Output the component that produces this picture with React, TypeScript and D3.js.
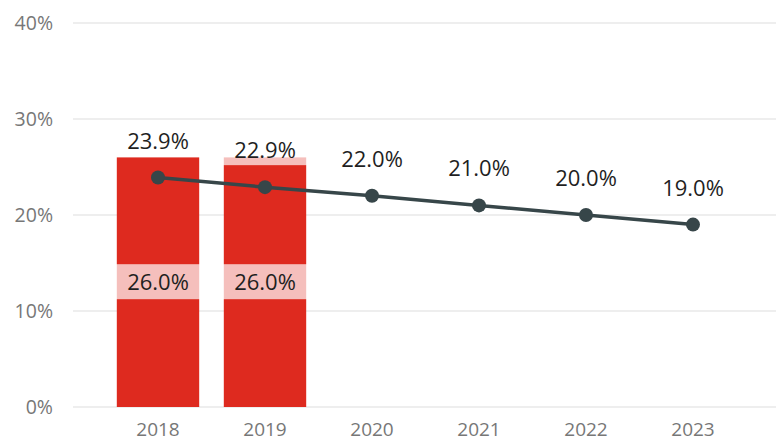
import { useEffect, useRef } from "react";
import * as d3 from "d3";

const years = ["2018", "2019", "2020", "2021", "2022", "2023"];
const barValues = [26.0, 26.0, null, null, null, null];
const lineValues = [23.9, 22.9, 22.0, 21.0, 20.0, 19.0];
const yTicks = [0, 10, 20, 30, 40];

const W = 776;
const H = 439;

const App = () => {
  const ref = useRef<SVGSVGElement | null>(null);

  useEffect(() => {
    const svg = d3.select(ref.current);
    svg.selectAll("*").remove();

    const font = "'Open Sans', 'Segoe UI', sans-serif";
    const y = d3.scaleLinear().domain([0, 40]).range([407, 23]);
    const x = d3.scalePoint<string>().domain(years).range([104.5, 746.5]).padding(0.5);
    const barW = x.step() * 0.77;

    // gridlines + y labels
    const grid = svg.append("g");
    grid
      .selectAll("line")
      .data(yTicks)
      .enter()
      .append("line")
      .attr("x1", 73)
      .attr("x2", W)
      .attr("y1", (d) => y(d))
      .attr("y2", (d) => y(d))
      .attr("stroke", "#eeeeee")
      .attr("stroke-width", 2);
    grid
      .selectAll("text")
      .data(yTicks)
      .enter()
      .append("text")
      .attr("x", 53)
      .attr("y", (d) => y(d) + 7)
      .attr("text-anchor", "end")
      .attr("font-family", font)
      .attr("font-size", 19.5)
      .attr("fill", "#777")
      .text((d) => `${d}%`);

    // x labels
    svg
      .append("g")
      .selectAll("text")
      .data(years)
      .enter()
      .append("text")
      .attr("x", (d) => x(d)!)
      .attr("y", 436)
      .attr("text-anchor", "middle")
      .attr("font-family", font)
      .attr("font-size", 19)
      .attr("fill", "#777")
      .text((d) => d);

    const barData = years
      .map((yr, i) => ({ yr, v: barValues[i] }))
      .filter((d) => d.v !== null) as { yr: string; v: number }[];

    svg
      .append("g")
      .selectAll("rect")
      .data(barData)
      .enter()
      .append("rect")
      .attr("x", (d) => x(d.yr)! - barW / 2)
      .attr("y", (d) => y(d.v))
      .attr("width", barW)
      .attr("height", (d) => y(0) - y(d.v))
      .attr("fill", "#de2a1f");

    const lineData = years.map((yr, i) => ({ yr, v: lineValues[i] }));

    // label backgrounds (semi-transparent white, shows pink over bars)
    const bgs = svg.append("g").attr("fill", "#fff").attr("fill-opacity", 0.7);
    bgs
      .selectAll("rect.bar")
      .data(barData)
      .enter()
      .append("rect")
      .attr("x", (d) => x(d.yr)! - 50)
      .attr("y", (d) => (y(d.v) + y(0)) / 2 - 18)
      .attr("width", 100)
      .attr("height", 35);
    bgs
      .selectAll("rect.line")
      .data(lineData)
      .enter()
      .append("rect")
      .attr("x", (d) => x(d.yr)! - 50)
      .attr("y", (d) => y(d.v) - 37 - 17)
      .attr("width", 100)
      .attr("height", 32);

    const line = d3
      .line<{ yr: string; v: number }>()
      .x((d) => x(d.yr)!)
      .y((d) => y(d.v));

    svg
      .append("path")
      .datum(lineData)
      .attr("d", line)
      .attr("fill", "none")
      .attr("stroke", "#374649")
      .attr("stroke-width", 3.5);

    svg
      .append("g")
      .selectAll("circle")
      .data(lineData)
      .enter()
      .append("circle")
      .attr("cx", (d) => x(d.yr)!)
      .attr("cy", (d) => y(d.v))
      .attr("r", 7)
      .attr("fill", "#374649");

    const labels = svg
      .append("g")
      .attr("font-family", font)
      .attr("font-size", 22)
      .attr("fill", "#1f1f1f")
      .attr("text-anchor", "middle");
    labels
      .selectAll("text.bar")
      .data(barData)
      .enter()
      .append("text")
      .attr("x", (d) => x(d.yr)!)
      .attr("y", (d) => (y(d.v) + y(0)) / 2 + 8)
      .text((d) => `${d.v.toFixed(1)}%`);
    labels
      .selectAll("text.line")
      .data(lineData)
      .enter()
      .append("text")
      .attr("x", (d) => x(d.yr)!)
      .attr("y", (d) => y(d.v) - 29)
      .text((d) => `${d.v.toFixed(1)}%`);
  }, []);

  return (
    <div style={{ position: "fixed", left: 0, top: 0 }}>
      <svg ref={ref} width={W} height={H} style={{ display: "block", background: "#fff" }} />
    </div>
  );
};

export default App;
